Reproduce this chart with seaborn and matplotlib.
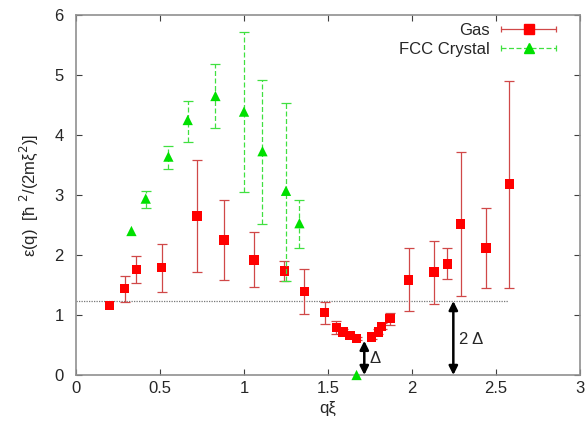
import numpy as np
import matplotlib
matplotlib.use("Agg")
import matplotlib.pyplot as plt
import seaborn as sns
from matplotlib.lines import Line2D
from matplotlib.legend_handler import HandlerLine2D, HandlerTuple

# ---- data ----
gas_q = [0.20, 0.29, 0.36, 0.51, 0.72, 0.88, 1.06, 1.24, 1.36, 1.48, 1.55, 1.59,
         1.63, 1.67, 1.76, 1.80, 1.82, 1.87, 1.98, 2.13, 2.21, 2.29, 2.44, 2.58]
gas_e = [1.16, 1.44, 1.76, 1.79, 2.65, 2.25, 1.92, 1.73, 1.39, 1.04, 0.79, 0.72,
         0.66, 0.61, 0.63, 0.72, 0.81, 0.94, 1.58, 1.72, 1.85, 2.52, 2.12, 3.18]
gas_lo = [1.16, 1.22, 1.53, 1.38, 1.71, 1.59, 1.47, 1.56, 1.02, 0.85, 0.68, 0.68,
          0.63, 0.58, 0.60, 0.68, 0.76, 0.83, 1.06, 1.18, 1.60, 1.32, 1.45, 1.45]
gas_hi = [1.16, 1.65, 1.98, 2.18, 3.58, 2.92, 2.38, 1.90, 1.76, 1.22, 0.90, 0.77,
          0.69, 0.64, 0.66, 0.76, 0.86, 1.04, 2.12, 2.24, 2.11, 3.71, 2.78, 4.90]

fcc_q = [0.33, 0.415, 0.55, 0.665, 0.83, 1.00, 1.11, 1.25, 1.33, 1.67]
fcc_e = [2.40, 2.94, 3.64, 4.25, 4.65, 4.39, 3.73, 3.07, 2.53, 0.0]
fcc_lo = [2.40, 2.79, 3.44, 3.89, 4.11, 3.05, 2.51, 1.56, 2.12, 0.0]
fcc_hi = [2.40, 3.07, 3.82, 4.57, 5.18, 5.71, 4.91, 4.54, 2.92, 0.0]

two_delta_level = 1.233
two_delta_xmax = 2.57
delta_q = 1.716
two_delta_q = 2.246

x_ticks = [0, 0.5, 1, 1.5, 2, 2.5, 3]
x_tick_labels = ["0", "0.5", "1", "1.5", "2", "2.5", "3"]
y_ticks = [0, 1, 2, 3, 4, 5, 6]

# ---- style ----
sns.set_style("ticks")
plt.rcParams['font.family'] = ['Liberation Sans', 'DejaVu Sans']
plt.rcParams['mathtext.fontset'] = 'dejavusans'

fig = plt.figure(figsize=(5.88, 4.36), dpi=100)
ax = fig.add_axes([76/588, 1 - 375/436, (580-76)/588, (375-15)/436])

gas_red = '#ff0000'
gas_bar = '#d04848'
fcc_green = '#00e000'
fcc_bar = '#40e040'


def bars(q, e, lo, hi):
    q, e, lo, hi = map(np.array, (q, e, lo, hi))
    m = (hi - lo) > 1e-9
    return q[m], e[m], [e[m] - lo[m], hi[m] - e[m]]


gq, ge, gerr = bars(gas_q, gas_e, gas_lo, gas_hi)
fq, fe, ferr = bars(fcc_q, fcc_e, fcc_lo, fcc_hi)

# dotted 2-Delta level
ax.hlines(two_delta_level, 0, two_delta_xmax, colors='#777777', linestyles=(0, (1, 1)),
          linewidth=0.9, zorder=1)

# Gas
ax.errorbar(gq, ge, yerr=gerr, fmt='none', ecolor=gas_bar, elinewidth=0.9,
            capsize=3.5, capthick=0.9, zorder=2)
sns.scatterplot(x=gas_q, y=gas_e, marker='s', color=gas_red, s=46, edgecolor='none',
                ax=ax, zorder=3, legend=False)

# FCC crystal
eb_f = ax.errorbar(fq, fe, yerr=ferr, fmt='none', ecolor=fcc_bar, elinewidth=0.9,
                   capsize=3.5, capthick=0.9, zorder=4)
eb_f[2][0].set_linestyle((0, (4, 2)))
sns.scatterplot(x=fcc_q, y=fcc_e, marker='^', color=fcc_green, s=55, edgecolor='none',
                ax=ax, zorder=5, legend=False, clip_on=False)

# arrows
arrow_kw = dict(arrowstyle='<|-|>', color='black', lw=1.8,
                mutation_scale=13, shrinkA=0, shrinkB=0)
ax.annotate('', xy=(delta_q, 0), xytext=(delta_q, min(gas_e) - 0.04), arrowprops=arrow_kw)
ax.annotate('', xy=(two_delta_q, 0), xytext=(two_delta_q, two_delta_level),
            arrowprops=arrow_kw)
ax.text(delta_q + 0.03, 0.28, 'Δ', fontsize=12, va='center', ha='left')
ax.text(two_delta_q + 0.035, 0.60, '2 Δ', fontsize=12, va='center', ha='left')

# axes
ax.set_xlim(0, 3)
ax.set_ylim(0, 6)
ax.set_xticks(x_ticks)
ax.set_xticklabels(x_tick_labels)
ax.set_yticks(y_ticks)
for s in ax.spines.values():
    s.set_visible(True)
    s.set_color('#909090')
    s.set_linewidth(1.2)
ax.tick_params(direction='in', length=4, width=0.8, color='#404040',
               top=True, right=True, labelsize=12)
ax.tick_params(axis='x', pad=4)
ax.tick_params(axis='y', pad=9)
ax.set_xlabel('qξ', fontsize=12, labelpad=4)
ax.set_ylabel('ε(q)  [ħ $^{2}$/(2mξ$^{2}$)]', fontsize=12, labelpad=10)

# legend (gnuplot style: text first, horizontal error bar handle)
cap_g = Line2D([], [], color=gas_bar, lw=0.9, marker='|', markersize=5, mew=0.9)
mk_g = Line2D([], [], color=gas_red, lw=0, marker='s', markersize=7)
cap_f = Line2D([], [], color=fcc_bar, lw=0.9, ls=(0, (4, 2)), marker='|',
               markersize=5, mew=0.9)
mk_f = Line2D([], [], color=fcc_green, lw=0, marker='^', markersize=7.5)
leg = ax.legend([(cap_g, mk_g), (cap_f, mk_f)], ['Gas', 'FCC Crystal'],
                handler_map={tuple: HandlerTuple(ndivide=1),
                             cap_g: HandlerLine2D(numpoints=2, marker_pad=0.0),
                             cap_f: HandlerLine2D(numpoints=2, marker_pad=0.0)},
                loc='upper right', bbox_to_anchor=(0.9657, 0.996), markerfirst=False,
                frameon=False, fontsize=12, handlelength=3.3, handletextpad=0.7,
                labelspacing=0.25, borderaxespad=0.0)

fig.savefig('out.png', dpi=100)
